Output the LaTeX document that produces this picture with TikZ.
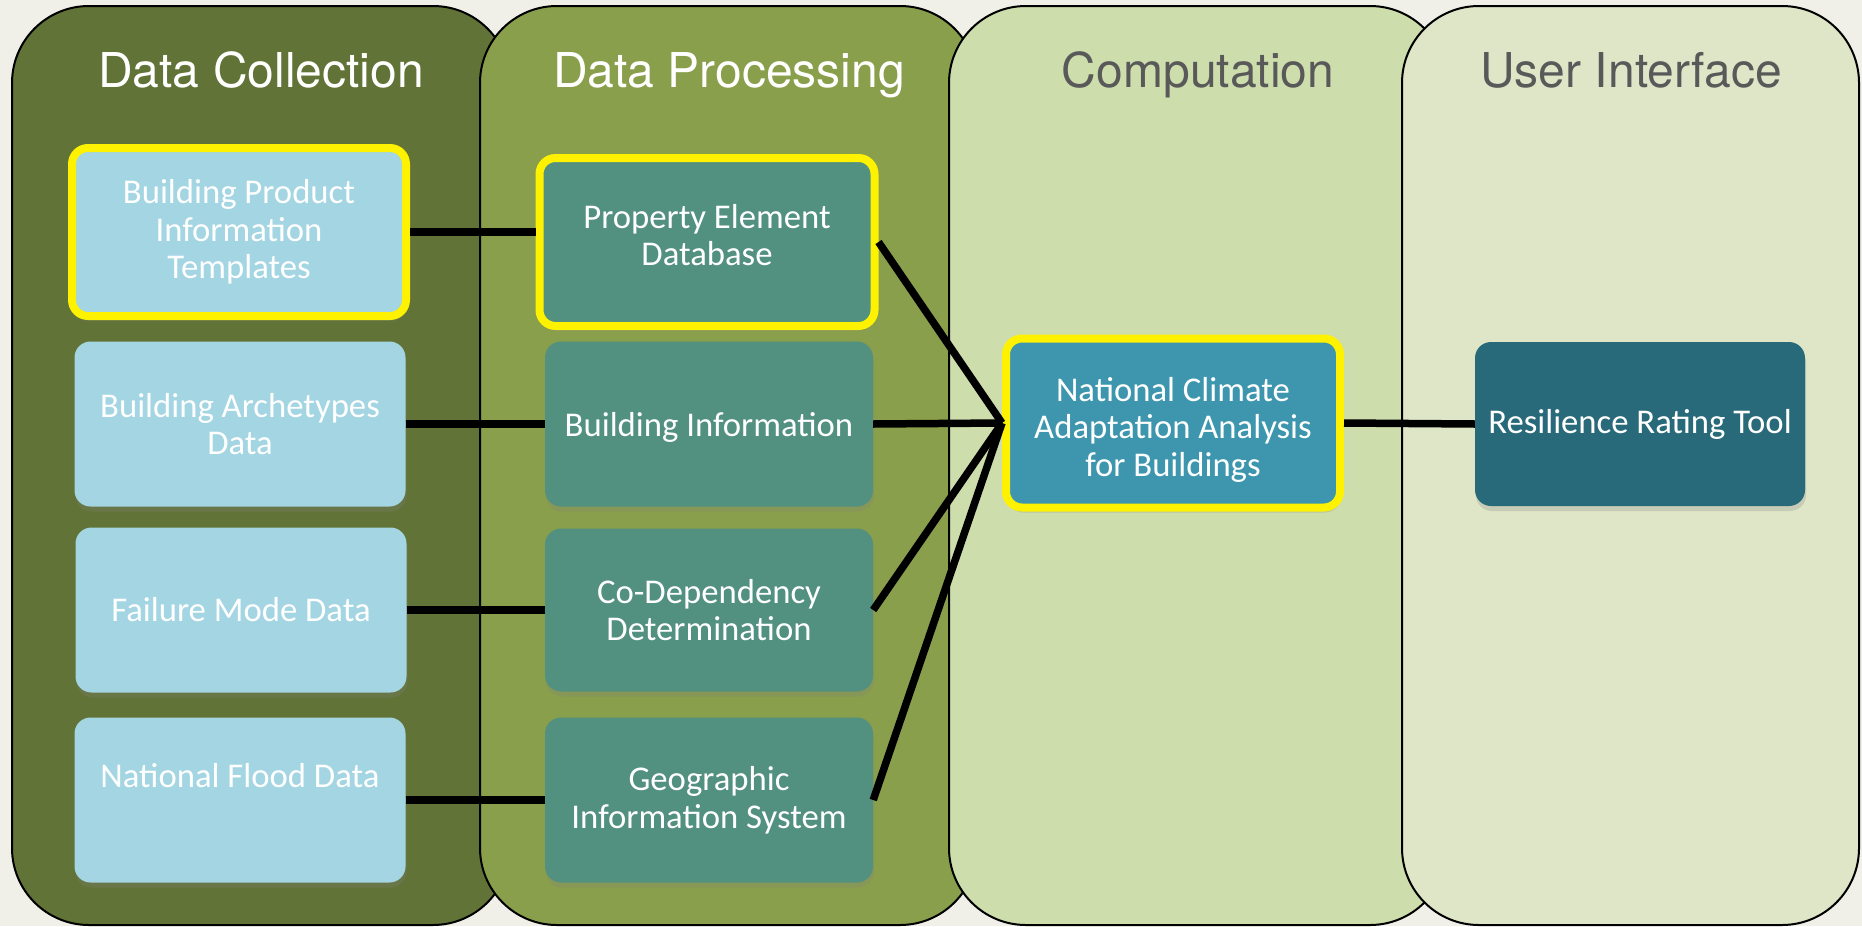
\documentclass[tikz,border=0pt]{standalone}
\usepackage{fontspec}
\setmainfont{Carlito}
\newfontfamily\headfont{TeX Gyre Heros}
\usetikzlibrary{shadows}
\definecolor{paper}{HTML}{F0F0E8}
\definecolor{lanea}{HTML}{617336}
\definecolor{laneb}{HTML}{8A9F4B}
\definecolor{lanec}{HTML}{CDDDAC}
\definecolor{laned}{HTML}{DEE6C7}
\definecolor{skyblue}{HTML}{A3D5E3}
\definecolor{teal}{HTML}{52907F}
\definecolor{ocean}{HTML}{3D96AE}
\definecolor{deepteal}{HTML}{296A7A}
\definecolor{greytext}{HTML}{595959}
\tikzset{
  lane/.style={draw=black, line width=2pt, rounded corners=77pt},
  lanetitle/.style={anchor=base, font=\headfont\fontsize{48}{56}\selectfont},
  box/.style={rectangle, rounded corners=16pt, minimum width=331pt, minimum height=165pt,
    align=center, text=white, font=\fontsize{34.7}{37.5}\selectfont,
    drop shadow={opacity=0.25, shadow xshift=1pt, shadow yshift=-5pt}},
  hilite/.style={draw=yellow, line width=8pt},
  link/.style={draw=black, line width=7.5pt}
}

\begin{document}
\begin{tikzpicture}[x=1pt, y=-1pt]
\useasboundingbox (0,0) rectangle (1862,926);
\fill[paper] (0,0) rectangle (1862,926);
\foreach \xa/\xb/\col in {12/510/lanea, 480/977/laneb, 949/1447/lanec, 1402/1859/laned}
\draw[lane, fill=\col] (\xa,6) rectangle (\xb,925);

\node[lanetitle, text=white] (tcoll) at (261,87) {Data Collection};
\node[lanetitle, text=white] (tproc) at (729,87) {Data Processing};
\node[lanetitle, text=greytext] (tcomp) at (1198,87) {Computation};
\node[lanetitle, text=greytext] (tui) at (1631,87) {User Interface};

\node[box, hilite, fill=skyblue, minimum width=334pt, minimum height=168pt] (bpit) at (239,232) {Building Product\\Information\\Templates};
\node[box, fill=skyblue] (bad) at (240,424) {Building Archetypes\\Data};
\node[box, fill=skyblue] (fmd) at (241,610) {Failure Mode Data};
\node[box, fill=skyblue] (nfd) at (240,800) {National Flood Data\\\strut};

\node[box, hilite, fill=teal, minimum width=335pt, minimum height=168pt, text depth=14pt] (ped) at (707,242) {Property Element\\Database};
\node[box, fill=teal, minimum width=328pt] (bi) at (709,424) {\rule{0pt}{30pt}Building Information};
\node[box, fill=teal, minimum width=328pt, minimum height=163pt] (cdd) at (709,610) {Co-Dependency\\Determination};
\node[box, fill=teal, minimum width=328pt] (gis) at (709,800) {Geographic\\Information System};

\node[box, hilite, fill=ocean, minimum width=334pt, minimum height=169pt] (ncaab) at (1173,423) {\rule{0pt}{37pt}National Climate\\Adaptation Analysis\\for Buildings};
\node[box, fill=deepteal, minimum width=330pt, minimum height=164pt] (rrt) at (1640,424) {Resilience Rating Tool};

\draw[link] (bpit.east) -- (bpit.east -| ped.west);
\draw[link] (bad.east) -- (bi.west);
\draw[link] (fmd.east) -- (cdd.west);
\draw[link] (nfd.east) -- (gis.west);
\draw[link] (ped.east) -- (ncaab.west);
\draw[link] (bi.east) -- (ncaab.west);
\draw[link] (cdd.east) -- (ncaab.west);
\draw[link] (gis.east) -- (ncaab.west);
\draw[link] (ncaab.east) -- (rrt.west);
\end{tikzpicture}
\end{document}
